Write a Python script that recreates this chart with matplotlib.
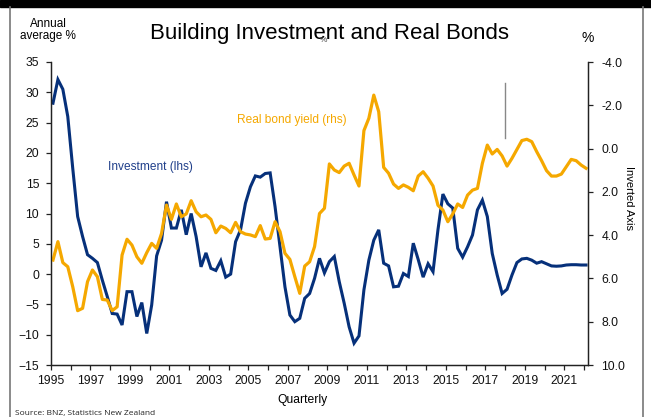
import matplotlib
matplotlib.use("Agg")
import matplotlib.pyplot as plt
import numpy as np
from matplotlib.lines import Line2D
from matplotlib.patches import Rectangle

plt.rcParams['font.family'] = ['Liberation Sans', 'DejaVu Sans']

# quarterly series, starting Q1 1995
start_year = 1995.1
investment = [
    28.2, 32.1, 30.5, 26.0, 17.5, 9.5, 6.2, 3.2,
    2.6, 1.9, -1.0, -3.7, -6.5, -6.6, -8.4, -2.9,
    -2.9, -7.0, -4.7, -9.8, -5.1, 3.0, 5.6, 11.95,
    7.6, 7.6, 10.6, 6.5, 10.0, 6.2, 1.2, 3.5,
    0.95, 0.6, 2.2, -0.5, 0.0, 5.35, 7.3, 11.7,
    14.4, 16.2, 16.0, 16.6, 16.7, 11.1, 4.5, -2.1,
    -6.75, -7.85, -7.3, -4.0, -3.2, -0.7, 2.6, 0.2,
    2.05, 2.9, -1.25, -4.8, -8.7, -11.4, -10.2, -2.6,
    2.3, 5.6, 7.3, 1.8, 1.35, -2.1, -2.0, 0.1,
    -0.4, 5.1, 2.4, -0.5, 1.7, 0.4, 7.3, 13.2,
    11.6, 10.9, 4.25, 2.8, 4.5, 6.45, 10.6, 12.2,
    9.5, 3.4, -0.15, -3.2, -2.5, -0.15, 1.9, 2.5,
    2.6, 2.3, 1.8, 2.05, 1.7, 1.35, 1.3, 1.35,
    1.5, 1.55, 1.55, 1.5, 1.5,
]
real_bond = [
    5.15, 4.30, 5.27, 5.46, 6.38, 7.49, 7.38, 6.15,
    5.61, 5.92, 6.97, 7.0, 7.49, 7.31, 4.92, 4.19,
    4.46, 5.0, 5.30, 4.81, 4.38, 4.61, 3.92, 2.61,
    3.27, 2.56, 3.15, 3.02, 2.41, 2.92, 3.15, 3.07,
    3.27, 3.89, 3.58, 3.69, 3.89, 3.41, 3.84, 3.95,
    3.99, 4.07, 3.56, 4.18, 4.15, 3.38, 3.84, 4.84,
    5.12, 5.92, 6.69, 5.43, 5.23, 4.53, 3.0, 2.76,
    0.71, 0.99, 1.11, 0.81, 0.68, 1.22, 1.73, -0.83,
    -1.40, -2.47, -1.70, 0.87, 1.14, 1.64, 1.84, 1.68,
    1.79, 1.95, 1.27, 1.07, 1.37, 1.73, 2.62, 2.84,
    3.38, 3.02, 2.56, 2.72, 2.15, 1.92, 1.84, 0.68,
    -0.16, 0.25, 0.04, 0.34, 0.81, 0.45, 0.04, -0.37,
    -0.43, -0.32, 0.14, 0.56, 1.02, 1.27, 1.27, 1.18,
    0.84, 0.50, 0.56, 0.76, 0.91,
]
years = np.arange(1995, 2023)
left_ticks = [-15, -10, -5, 0, 5, 10, 15, 20, 25, 30, 35]
right_ticks = [-4, -2, 0, 2, 4, 6, 8, 10]

navy = '#06307a'
orange = '#f5a800'
W, H = 651, 417

quarters = start_year + 0.25 * np.arange(len(investment))

fig = plt.figure(figsize=(W / 100, H / 100), dpi=100)
ax = fig.add_axes([51 / W, 1 - 365 / H, 537 / W, 303 / H])
ax2 = ax.twinx()

ax.plot(quarters, investment, color=navy, lw=2.2, solid_joinstyle='miter')
ax2.plot(quarters, real_bond, color=orange, lw=2.3)
# marker line near 2018
ax2.plot([2018, 2018], [-3.03, -0.5], color='#888888', lw=1)

ax.set_xlim(1995, 2022.2)
ax.set_ylim(-15, 35)
ax2.set_ylim(10, -4)
ax.set_yticks(left_ticks)
ax2.set_yticks(right_ticks)
ax2.set_yticklabels([f'{v:.1f}' for v in right_ticks])
ax.set_xticks(years)
ax.set_xticklabels([str(y) if y % 2 == 1 else '' for y in years])

for a in (ax, ax2):
    a.spines['top'].set_visible(False)
    for s in a.spines.values():
        s.set_color('#222222')
        s.set_linewidth(0.9)
    a.tick_params(length=3.5, width=0.9, color='#222222', labelsize=8.7,
                  labelcolor='#111111')
ax.tick_params(axis='y', pad=5)
ax2.tick_params(axis='y', pad=6)
ax.tick_params(axis='x', pad=4)

ax.text(1997.9, 17.7, 'Investment (lhs)', color='#203f8a', fontsize=8.6,
        va='center', ha='left')
ax.text(2004.4, 25.5, 'Real bond yield (rhs)', color=orange, fontsize=8.6,
        va='center', ha='left')

fig.text(329.5 / W, 1 - 39 / H, 'Building Investment and Real Bonds',
         fontsize=16, ha='center', va='baseline')
fig.text(323 / W, 1 - 40 / H, '%', fontsize=6, ha='center', va='center',
         color='#444444')
fig.text(48 / W, 1 - 30 / H, 'Annual\naverage %', fontsize=8.5, ha='center',
         va='center', linespacing=1.1)
fig.text(588 / W, 1 - 38 / H, '%', fontsize=10, ha='center', va='center')
fig.text(629 / W, 1 - 198 / H, 'Inverted Axis', fontsize=8, rotation=270,
         ha='center', va='center')
fig.text(302 / W, 1 - 400 / H, 'Quarterly', fontsize=8.7, ha='center',
         va='center')
fig.text(15 / W, 1 - 413 / H, 'Source: BNZ, Statistics New Zealand',
         fontsize=6, family='Open Sans', ha='left', va='center',
         color='#222222')

# page frame
fig.patches.append(Rectangle((0, 1 - 7 / H), 1, 7 / H, transform=fig.transFigure,
                             color='black', zorder=0))
for xp in (10, 643):
    fig.lines.append(Line2D([xp / W, xp / W], [0, 1 - 7 / H],
                            transform=fig.transFigure, color='#777777', lw=1.2))

fig.savefig('out.png', dpi=100)
